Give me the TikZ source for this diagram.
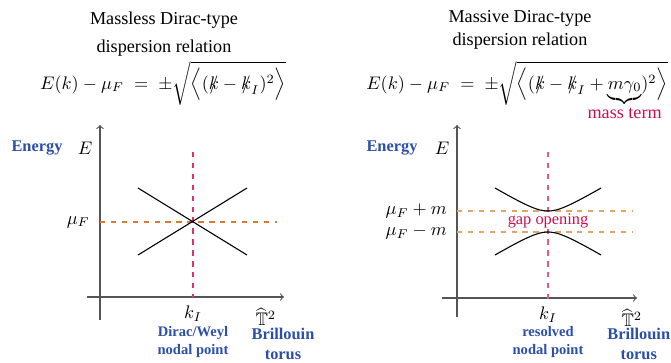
\documentclass[tikz,border=0pt]{standalone}
\usepackage{amsmath,amssymb}
\usepackage{fontspec}
\setmainfont{Liberation Serif}
\usepackage{xcolor}
\usetikzlibrary{calc,positioning}
\definecolor{axisc}{HTML}{555555}
\definecolor{labc}{HTML}{2B4FA8}
\definecolor{fermic}{HTML}{D97A2E}
\definecolor{fermilt}{HTML}{E3A468}
\definecolor{nodec}{HTML}{E0306F}
\definecolor{nodelt}{HTML}{DE5A92}
\definecolor{termc}{HTML}{C8104F}
\newcommand{\fsl}[1]{\ooalign{$#1$\cr\hidewidth$/$\hidewidth\cr}}
\tikzset{
  ax/.style={->,axisc,line width=0.6pt},
  band/.style={black,line width=0.6pt},
  fermi/.style={dashed,fermic,line width=0.6pt},
  nodal/.style={dashed,nodec,line width=0.6pt},
  lab/.style={labc,font=\bfseries\small,align=center,inner sep=0pt},
  tit/.style={align=center,inner sep=0pt}
}

\begin{document}
\begin{tikzpicture}[x=0.55pt,y=-0.55pt]
\useasboundingbox (0,0) rectangle (671,362);
% titles and formulas
\node[tit] (tl) at (164,34) {Massless Dirac-type\\[3pt] dispersion relation};
\node[anchor=base] (fl) at (163,89)
  {$E(k)-\mu_F\;=\;\pm\sqrt{\Big\langle(\fsl{k}-\fsl{k}_I)^2\Big\rangle}$};
\node[tit] (tr) at (520,30) {Massive Dirac-type\\[1pt] dispersion relation};
\node[anchor=base] (fr) at (517,89)
  {$E(k)-\mu_F\;=\;\pm\sqrt{\Big\langle(\fsl{k}-\fsl{k}_I+\smash[b]{\underbrace{m\gamma_0}_{\makebox[0pt]{\normalsize\color{termc}mass term}}})^2\Big\rangle}$};

% left panel: massless
\draw[ax] (100,320) -- (100,125);
\draw[ax] (87,297) -- (284,297);
\draw[fermi] (100,222) -- (277,222);
\draw[nodal] (193,152) -- (193,298);
\draw[band] (138,188) -- (247,255);
\draw[band] (138,255) -- (247,188);
\node[lab] (el) at (37,148) {Energy};
\node (El) at (85,148) {$E$};
\node[anchor=east,inner sep=1pt] (ml) at (92,222) {$\mu_F$};
\node (kl) at (193,314) {$k_I$};
\node (Tl) at (266,317) {$\widehat{\mathbb{T}}^2$};
\node[lab,font=\bfseries\footnotesize] (nl) at (193,342) {Dirac/Weyl\\nodal point};
\node[lab] (bl) at (283,344) {Brillouin\\torus};

% right panel: massive
\draw[ax] (457,317) -- (457,125);
\draw[ax] (442,298) -- (637,298);
\draw[fermi,fermilt,line width=0.9pt] (457,211) -- (632,211);
\draw[fermi,fermilt,line width=0.9pt] (457,232) -- (632,232);
\draw[nodal,nodelt] (548,152) -- (548,300);
\draw[band] plot[smooth,domain=-53:53,samples=41] ({548+\x},{221.5-sqrt(10.5*10.5+0.36*\x*\x)});
\draw[band] plot[smooth,domain=-53:53,samples=41] ({548+\x},{221.5+sqrt(10.5*10.5+0.36*\x*\x)});
\node[lab] (er) at (392,148) {Energy};
\node (Er) at (442,148) {$E$};
\node[anchor=east,inner sep=1pt] (mp) at (449,211) {$\mu_F+m$};
\node[anchor=east,inner sep=1pt] (mm) at (449,232) {$\mu_F-m$};
\node[termc,font=\small,fill=white,inner sep=0.5pt] (gap) at (548,221) {gap opening};
\node (kr) at (548,315) {$k_I$};
\node (Tr) at (632,318) {$\widehat{\mathbb{T}}^2$};
\node[lab,font=\bfseries\footnotesize] (nr) at (548,342) {resolved\\nodal point};
\node[lab,anchor=west] (br) at (607,344) {Brillouin\\torus};
\end{tikzpicture}
\end{document}
